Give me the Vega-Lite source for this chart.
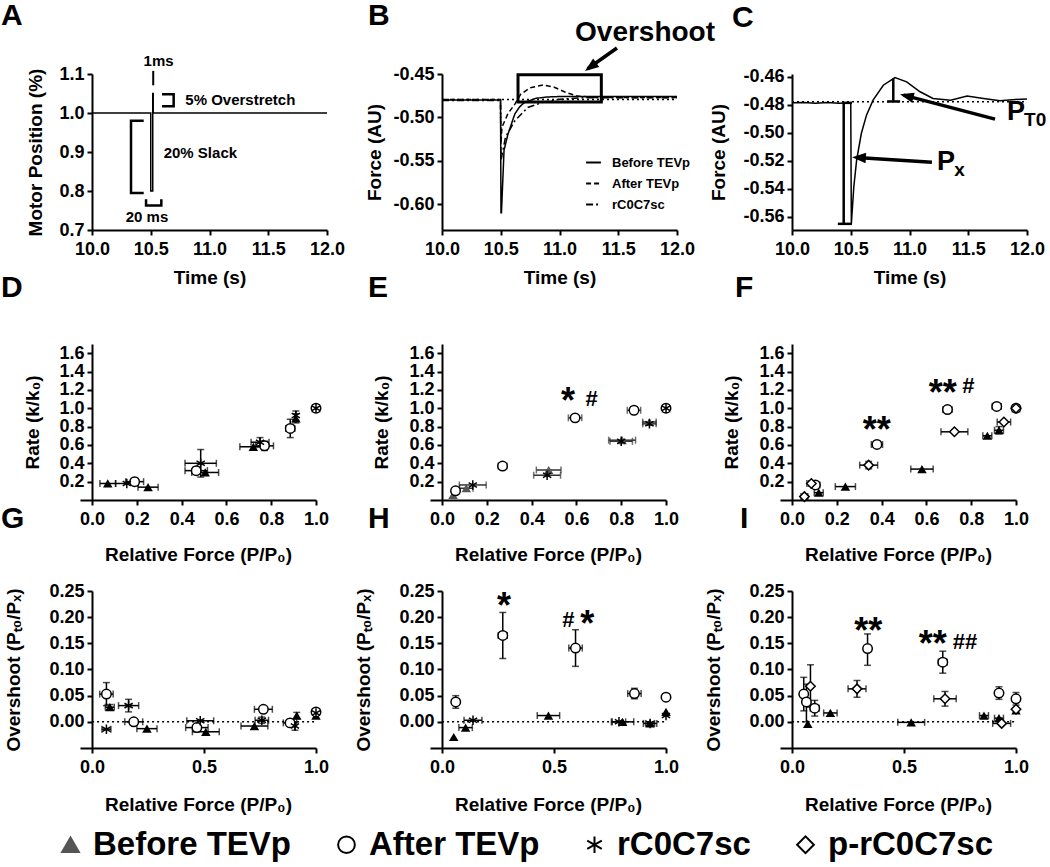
{
"$schema":"https://vega.github.io/schema/vega-lite/v6.json",
"padding":{"left":-35,"top":0,"right":0,"bottom":0},
"config":{
 "view":{"stroke":null},
 "axis":{"domainColor":"black","domainWidth":2,"tickColor":"black","tickWidth":2,"tickSize":5,"labelFont":"Liberation Sans","labelFontSize":18,"labelFontWeight":"bold","labelColor":"black","titleFont":"Liberation Sans","titleFontSize":19,"titleFontWeight":"bold","titleColor":"black","grid":false,"labelFlush":false,"labelOverlap":false,"labelBound":false},
 "axisX":{"labelPadding":5},
 "axisY":{"labelPadding":3},
 "title":{"font":"Liberation Sans","fontSize":30,"fontWeight":"bold","color":"black","anchor":"start","frame":"group"},
 "text":{"font":"Liberation Sans","fontWeight":"bold","color":"black"},
 "legend":{"labelFont":"Liberation Sans","labelFontWeight":"bold","labelColor":"black"}
},
"datasets":{
 "motor":[{"i":0,"t":10,"v":1},{"i":1,"t":10.5,"v":1},{"i":2,"t":10.5,"v":0.8},{"i":3,"t":10.517,"v":0.8},{"i":4,"t":10.517,"v":1.05},{"i":5,"t":10.521,"v":1.05},{"i":6,"t":10.521,"v":1.0},{"i":7,"t":12,"v":1.0}],
 "bracketsA":[
  {"b":"over","i":0,"t":10.596,"v":1.048},{"b":"over","i":1,"t":10.695,"v":1.048},{"b":"over","i":2,"t":10.695,"v":1.017},{"b":"over","i":3,"t":10.596,"v":1.017},
  {"b":"slack","i":0,"t":10.44,"v":0.98},{"b":"slack","i":1,"t":10.332,"v":0.98},{"b":"slack","i":2,"t":10.332,"v":0.795},{"b":"slack","i":3,"t":10.44,"v":0.795},
  {"b":"ms","i":0,"t":10.46,"v":0.779},{"b":"ms","i":1,"t":10.46,"v":0.763},{"b":"ms","i":2,"t":10.59,"v":0.763},{"b":"ms","i":3,"t":10.59,"v":0.779}
 ],
 "force":[
  {"s":"Before TEVp","i":0,"t":10.0,"v":-0.48},{"s":"Before TEVp","i":1,"t":10.498,"v":-0.48},{"s":"Before TEVp","i":2,"t":10.502,"v":-0.61},{"s":"Before TEVp","i":3,"t":10.506,"v":-0.61},{"s":"Before TEVp","i":4,"t":10.528,"v":-0.538},{"s":"Before TEVp","i":5,"t":10.56,"v":-0.52},{"s":"Before TEVp","i":6,"t":10.62,"v":-0.496},{"s":"Before TEVp","i":7,"t":10.66,"v":-0.488},{"s":"Before TEVp","i":8,"t":10.7,"v":-0.483},{"s":"Before TEVp","i":9,"t":10.8,"v":-0.478},{"s":"Before TEVp","i":10,"t":10.9,"v":-0.4765},{"s":"Before TEVp","i":11,"t":11.0,"v":-0.476},{"s":"Before TEVp","i":12,"t":12.0,"v":-0.476},
  {"s":"After TEVp","i":0,"t":10.0,"v":-0.4795},{"s":"After TEVp","i":1,"t":10.498,"v":-0.4795},{"s":"After TEVp","i":2,"t":10.502,"v":-0.53},{"s":"After TEVp","i":3,"t":10.51,"v":-0.5115},{"s":"After TEVp","i":4,"t":10.56,"v":-0.496},{"s":"After TEVp","i":5,"t":10.62,"v":-0.4847},{"s":"After TEVp","i":6,"t":10.67,"v":-0.4733},{"s":"After TEVp","i":7,"t":10.75,"v":-0.466},{"s":"After TEVp","i":8,"t":10.86,"v":-0.4626},{"s":"After TEVp","i":9,"t":10.95,"v":-0.465},{"s":"After TEVp","i":10,"t":11.05,"v":-0.471},{"s":"After TEVp","i":11,"t":11.15,"v":-0.4755},{"s":"After TEVp","i":12,"t":11.3,"v":-0.477},{"s":"After TEVp","i":13,"t":12.0,"v":-0.477},
  {"s":"rC0C7sc","i":0,"t":10.0,"v":-0.4805},{"s":"rC0C7sc","i":1,"t":10.498,"v":-0.4805},{"s":"rC0C7sc","i":2,"t":10.502,"v":-0.55},{"s":"rC0C7sc","i":3,"t":10.54,"v":-0.523},{"s":"rC0C7sc","i":4,"t":10.62,"v":-0.504},{"s":"rC0C7sc","i":5,"t":10.73,"v":-0.4886},{"s":"rC0C7sc","i":6,"t":10.85,"v":-0.483},{"s":"rC0C7sc","i":7,"t":11.0,"v":-0.479},{"s":"rC0C7sc","i":8,"t":11.2,"v":-0.4775},{"s":"rC0C7sc","i":9,"t":12.0,"v":-0.4775}
 ],
 "traceC":[
  {"i":0,"t":10.0,"v":-0.4786},{"i":1,"t":10.1,"v":-0.4783},{"i":2,"t":10.2,"v":-0.4789},{"i":3,"t":10.3,"v":-0.4784},{"i":4,"t":10.4,"v":-0.4788},{"i":5,"t":10.5,"v":-0.4786},{"i":6,"t":10.505,"v":-0.565},{"i":7,"t":10.526,"v":-0.5386},{"i":8,"t":10.55,"v":-0.5195},{"i":9,"t":10.59,"v":-0.5005},{"i":10,"t":10.634,"v":-0.4874},{"i":11,"t":10.69,"v":-0.4767},{"i":12,"t":10.777,"v":-0.466},{"i":13,"t":10.876,"v":-0.4605},{"i":14,"t":10.976,"v":-0.4636},{"i":15,"t":11.09,"v":-0.4707},{"i":16,"t":11.2,"v":-0.4755},{"i":17,"t":11.35,"v":-0.4767},{"i":18,"t":11.49,"v":-0.4738},{"i":19,"t":11.63,"v":-0.4755},{"i":20,"t":11.77,"v":-0.4771},{"i":21,"t":11.9,"v":-0.4762},{"i":22,"t":12.0,"v":-0.4758}
 ],
 "pts":[
  {"p":"D","g":"Before TEVp","x":0.07,"y":0.18,"xlo":0.035,"xhi":0.105},
  {"p":"D","g":"Before TEVp","x":0.25,"y":0.14,"xlo":0.205,"xhi":0.295},
  {"p":"D","g":"Before TEVp","x":0.505,"y":0.30,"xlo":0.445,"xhi":0.565},
  {"p":"D","g":"Before TEVp","x":0.72,"y":0.58,"xlo":0.66,"xhi":0.78},
  {"p":"D","g":"Before TEVp","x":0.91,"y":0.89,"ylo":0.84,"yhi":0.94},
  {"p":"D","g":"Before TEVp","x":1.0,"y":1.0},
  {"p":"D","g":"After TEVp","x":0.19,"y":0.2,"xlo":0.15,"xhi":0.23},
  {"p":"D","g":"After TEVp","x":0.465,"y":0.32,"xlo":0.415,"xhi":0.515,"ylo":0.28,"yhi":0.36},
  {"p":"D","g":"After TEVp","x":0.77,"y":0.59,"xlo":0.73,"xhi":0.81,"ylo":0.54,"yhi":0.64},
  {"p":"D","g":"After TEVp","x":0.885,"y":0.78,"xlo":0.865,"xhi":0.905,"ylo":0.68,"yhi":0.88},
  {"p":"D","g":"After TEVp","x":1.0,"y":1.0},
  {"p":"D","g":"rC0C7sc","x":0.155,"y":0.18,"xlo":0.105,"xhi":0.205},
  {"p":"D","g":"rC0C7sc","x":0.485,"y":0.40,"xlo":0.415,"xhi":0.555,"ylo":0.25,"yhi":0.55},
  {"p":"D","g":"rC0C7sc","x":0.75,"y":0.63,"xlo":0.71,"xhi":0.79,"ylo":0.58,"yhi":0.68},
  {"p":"D","g":"rC0C7sc","x":0.91,"y":0.92,"ylo":0.87,"yhi":0.97},
  {"p":"D","g":"rC0C7sc","x":1.0,"y":1.0},
  {"p":"E","g":"Before TEVp","x":0.049,"y":0.055},
  {"p":"E","g":"Before TEVp","x":0.108,"y":0.128,"xlo":0.078,"xhi":0.138},
  {"p":"E","g":"Before TEVp","x":0.476,"y":0.327,"xlo":0.421,"xhi":0.531},
  {"p":"E","g":"Before TEVp","x":0.804,"y":0.652,"xlo":0.744,"xhi":0.864},
  {"p":"E","g":"Before TEVp","x":0.926,"y":0.85,"xlo":0.896,"xhi":0.956},
  {"p":"E","g":"Before TEVp","x":1.0,"y":1.0},
  {"p":"E","g":"After TEVp","x":0.06,"y":0.10,"xlo":0.045,"xhi":0.075},
  {"p":"E","g":"After TEVp","x":0.27,"y":0.37,"xlo":0.25,"xhi":0.29,"ylo":0.34,"yhi":0.40},
  {"p":"E","g":"After TEVp","x":0.594,"y":0.895,"xlo":0.564,"xhi":0.624,"ylo":0.875,"yhi":0.915},
  {"p":"E","g":"After TEVp","x":0.857,"y":0.978,"xlo":0.827,"xhi":0.887,"ylo":0.958,"yhi":0.998},
  {"p":"E","g":"After TEVp","x":1.0,"y":1.0},
  {"p":"E","g":"rC0C7sc","x":0.137,"y":0.164,"xlo":0.077,"xhi":0.197},
  {"p":"E","g":"rC0C7sc","x":0.469,"y":0.27,"xlo":0.409,"xhi":0.529},
  {"p":"E","g":"rC0C7sc","x":0.80,"y":0.64,"xlo":0.75,"xhi":0.85},
  {"p":"E","g":"rC0C7sc","x":0.926,"y":0.83,"xlo":0.896,"xhi":0.956},
  {"p":"E","g":"rC0C7sc","x":1.0,"y":1.0},
  {"p":"F","g":"Before TEVp","x":0.119,"y":0.08,"xlo":0.099,"xhi":0.139},
  {"p":"F","g":"Before TEVp","x":0.238,"y":0.146,"xlo":0.193,"xhi":0.283},
  {"p":"F","g":"Before TEVp","x":0.58,"y":0.337,"xlo":0.53,"xhi":0.63},
  {"p":"F","g":"Before TEVp","x":0.872,"y":0.70,"xlo":0.852,"xhi":0.892},
  {"p":"F","g":"Before TEVp","x":0.924,"y":0.76,"xlo":0.904,"xhi":0.944,"ylo":0.72,"yhi":0.80},
  {"p":"F","g":"Before TEVp","x":1.0,"y":1.0},
  {"p":"F","g":"After TEVp","x":0.104,"y":0.164,"xlo":0.084,"xhi":0.124,"ylo":0.134,"yhi":0.194},
  {"p":"F","g":"After TEVp","x":0.379,"y":0.605,"xlo":0.354,"xhi":0.404,"ylo":0.575,"yhi":0.635},
  {"p":"F","g":"After TEVp","x":0.694,"y":0.985,"xlo":0.674,"xhi":0.714,"ylo":0.945,"yhi":1.025},
  {"p":"F","g":"After TEVp","x":0.914,"y":1.02,"xlo":0.894,"xhi":0.934,"ylo":0.99,"yhi":1.05},
  {"p":"F","g":"After TEVp","x":1.0,"y":1.0},
  {"p":"F","g":"p-rC0C7sc","x":0.055,"y":0.037,"xlo":0.04,"xhi":0.07},
  {"p":"F","g":"p-rC0C7sc","x":0.086,"y":0.18,"xlo":0.066,"xhi":0.106,"ylo":0.15,"yhi":0.21},
  {"p":"F","g":"p-rC0C7sc","x":0.342,"y":0.38,"xlo":0.302,"xhi":0.382,"ylo":0.34,"yhi":0.42},
  {"p":"F","g":"p-rC0C7sc","x":0.725,"y":0.743,"xlo":0.665,"xhi":0.785},
  {"p":"F","g":"p-rC0C7sc","x":0.946,"y":0.85,"xlo":0.916,"xhi":0.976},
  {"p":"F","g":"p-rC0C7sc","x":1.0,"y":1.0},
  {"p":"G","g":"Before TEVp","x":0.079,"y":0.028,"xlo":0.059,"xhi":0.099,"ylo":0.023,"yhi":0.033},
  {"p":"G","g":"Before TEVp","x":0.245,"y":-0.013,"xlo":0.2,"xhi":0.29},
  {"p":"G","g":"Before TEVp","x":0.508,"y":-0.019,"xlo":0.448,"xhi":0.568},
  {"p":"G","g":"Before TEVp","x":0.725,"y":-0.008,"xlo":0.665,"xhi":0.785},
  {"p":"G","g":"Before TEVp","x":0.914,"y":0.012,"ylo":0.006,"yhi":0.018},
  {"p":"G","g":"Before TEVp","x":1.0,"y":0.012},
  {"p":"G","g":"After TEVp","x":0.064,"y":0.053,"xlo":0.034,"xhi":0.094,"ylo":0.031,"yhi":0.075},
  {"p":"G","g":"After TEVp","x":0.186,"y":0.0,"xlo":0.146,"xhi":0.226},
  {"p":"G","g":"After TEVp","x":0.468,"y":-0.011,"xlo":0.418,"xhi":0.518},
  {"p":"G","g":"After TEVp","x":0.765,"y":0.024,"xlo":0.725,"xhi":0.805},
  {"p":"G","g":"After TEVp","x":0.884,"y":-0.002,"xlo":0.854,"xhi":0.914},
  {"p":"G","g":"After TEVp","x":1.0,"y":0.019},
  {"p":"G","g":"rC0C7sc","x":0.064,"y":-0.014,"xlo":0.044,"xhi":0.084},
  {"p":"G","g":"rC0C7sc","x":0.163,"y":0.031,"xlo":0.118,"xhi":0.208,"ylo":0.019,"yhi":0.043},
  {"p":"G","g":"rC0C7sc","x":0.483,"y":0.002,"xlo":0.423,"xhi":0.543},
  {"p":"G","g":"rC0C7sc","x":0.758,"y":0.003,"xlo":0.728,"xhi":0.788,"ylo":-0.003,"yhi":0.009},
  {"p":"G","g":"rC0C7sc","x":0.906,"y":-0.008,"ylo":-0.016,"yhi":0.0},
  {"p":"G","g":"rC0C7sc","x":1.0,"y":0.017},
  {"p":"H","g":"Before TEVp","x":0.052,"y":-0.029},
  {"p":"H","g":"Before TEVp","x":0.105,"y":-0.011,"xlo":0.075,"xhi":0.135},
  {"p":"H","g":"Before TEVp","x":0.475,"y":0.012,"xlo":0.425,"xhi":0.525},
  {"p":"H","g":"Before TEVp","x":0.806,"y":0.0,"xlo":0.756,"xhi":0.856},
  {"p":"H","g":"Before TEVp","x":0.929,"y":-0.003,"xlo":0.909,"xhi":0.949},
  {"p":"H","g":"Before TEVp","x":1.0,"y":0.019},
  {"p":"H","g":"After TEVp","x":0.061,"y":0.038,"ylo":0.026,"yhi":0.05},
  {"p":"H","g":"After TEVp","x":0.271,"y":0.165,"xlo":0.251,"xhi":0.291,"ylo":0.121,"yhi":0.209},
  {"p":"H","g":"After TEVp","x":0.596,"y":0.141,"xlo":0.566,"xhi":0.626,"ylo":0.106,"yhi":0.176},
  {"p":"H","g":"After TEVp","x":0.859,"y":0.054,"xlo":0.829,"xhi":0.889,"ylo":0.044,"yhi":0.064},
  {"p":"H","g":"After TEVp","x":1.0,"y":0.047},
  {"p":"H","g":"rC0C7sc","x":0.138,"y":0.003,"xlo":0.098,"xhi":0.178},
  {"p":"H","g":"rC0C7sc","x":0.79,"y":0.0,"xlo":0.76,"xhi":0.82},
  {"p":"H","g":"rC0C7sc","x":0.929,"y":-0.003,"xlo":0.899,"xhi":0.959},
  {"p":"H","g":"rC0C7sc","x":1.0,"y":0.012},
  {"p":"I","g":"Before TEVp","x":0.07,"y":-0.004},
  {"p":"I","g":"Before TEVp","x":0.171,"y":0.017,"xlo":0.141,"xhi":0.201},
  {"p":"I","g":"Before TEVp","x":0.532,"y":-0.001,"xlo":0.472,"xhi":0.592},
  {"p":"I","g":"Before TEVp","x":0.857,"y":0.012,"xlo":0.837,"xhi":0.877},
  {"p":"I","g":"Before TEVp","x":0.924,"y":0.007,"xlo":0.904,"xhi":0.944},
  {"p":"I","g":"Before TEVp","x":1.0,"y":0.022},
  {"p":"I","g":"After TEVp","x":0.052,"y":0.053,"ylo":0.021,"yhi":0.085},
  {"p":"I","g":"After TEVp","x":0.064,"y":0.038,"ylo":0.0,"yhi":0.072},
  {"p":"I","g":"After TEVp","x":0.101,"y":0.026,"xlo":0.081,"xhi":0.121,"ylo":0.011,"yhi":0.041},
  {"p":"I","g":"After TEVp","x":0.337,"y":0.14,"xlo":0.322,"xhi":0.352,"ylo":0.108,"yhi":0.168},
  {"p":"I","g":"After TEVp","x":0.673,"y":0.114,"xlo":0.653,"xhi":0.693,"ylo":0.093,"yhi":0.135},
  {"p":"I","g":"After TEVp","x":0.924,"y":0.055,"xlo":0.909,"xhi":0.939,"ylo":0.043,"yhi":0.067},
  {"p":"I","g":"After TEVp","x":1.0,"y":0.044,"ylo":0.032,"yhi":0.056},
  {"p":"I","g":"p-rC0C7sc","x":0.082,"y":0.068,"ylo":0.028,"yhi":0.109},
  {"p":"I","g":"p-rC0C7sc","x":0.29,"y":0.063,"xlo":0.25,"xhi":0.33,"ylo":0.047,"yhi":0.079},
  {"p":"I","g":"p-rC0C7sc","x":0.683,"y":0.044,"xlo":0.633,"xhi":0.733,"ylo":0.03,"yhi":0.058},
  {"p":"I","g":"p-rC0C7sc","x":0.936,"y":-0.003,"xlo":0.896,"xhi":0.976},
  {"p":"I","g":"p-rC0C7sc","x":1.0,"y":0.024}
 ],
 "notes":[
  {"p":"E","t":"*","x":0.562,"y":1.12},{"p":"E","t":"#","x":0.668,"y":1.104},
  {"p":"F","t":"**","x":0.673,"y":1.213},{"p":"F","t":"#","x":0.787,"y":1.242},{"p":"F","t":"**","x":0.378,"y":0.806},
  {"p":"H","t":"*","x":0.276,"y":0.2296},{"p":"H","t":"#","x":0.564,"y":0.1946},{"p":"H","t":"*","x":0.648,"y":0.1946},
  {"p":"I","t":"**","x":0.34,"y":0.182},{"p":"I","t":"**","x":0.628,"y":0.156},{"p":"I","t":"##","x":0.772,"y":0.153}
 ]
},
"spacing":-14,
"bounds":"full",
"resolve":{"scale":{"strokeDash":"independent"},"legend":{"strokeDash":"independent"}},
"vconcat":[
  {"spacing":115,"bounds":"flush",
   "resolve":{"scale":{"strokeDash":"independent"},"legend":{"strokeDash":"independent"}},
   "hconcat":[
   {"width":12,"height":1,"data":{"values":[{"a":1}]},"mark":{"type":"text","text":""},"encoding":{}},
   {"width":235,"height":156,"title":{"text":"A","dx":-91,"offset":23},
    "layer":[
     {"data":{"name":"motor"},"mark":{"type":"line","color":"black","strokeWidth":1.5},
      "encoding":{"x":{"field":"t","type":"quantitative","scale":{"domain":[10,12]},"title":"Time (s)","axis":{"values":[10,10.5,11,11.5,12],"tickCount":20,"format":".1f","titlePadding":10,"labelOverlap":false}},
       "y":{"field":"v","type":"quantitative","scale":{"domain":[0.7,1.1]},"title":"Motor Position (%)","axis":{"values":[0.7,0.8,0.9,1.0,1.1],"tickCount":20,"format":".1f","titlePadding":13,"labelOverlap":false}},
       "order":{"field":"i"}}},
     {"data":{"name":"bracketsA"},"mark":{"type":"line","color":"black","strokeWidth":2.5},
      "encoding":{"x":{"field":"t","type":"quantitative","scale":{"domain":[10,12]}},"y":{"field":"v","type":"quantitative","scale":{"domain":[0.7,1.1]}},"detail":{"field":"b"},"order":{"field":"i"}}},
     {"data":{"values":[{"t":10.521,"v1":1.071,"v2":1.108}]},"mark":{"type":"rule","color":"black","strokeWidth":2},
      "encoding":{"x":{"field":"t","type":"quantitative","scale":{"domain":[10,12]}},"y":{"field":"v1","type":"quantitative","scale":{"domain":[0.7,1.1]}},"y2":{"field":"v2"}}},
     {"data":{"values":[{"t":10.567,"v":1.134,"label":"1ms"},{"t":10.468,"v":0.734,"label":"20 ms"}]},"mark":{"type":"text","fontSize":15,"align":"center","baseline":"middle"},
      "encoding":{"x":{"field":"t","type":"quantitative","scale":{"domain":[10,12]}},"y":{"field":"v","type":"quantitative","scale":{"domain":[0.7,1.1]}},"text":{"field":"label"}}},
     {"data":{"values":[{"t":10.794,"v":1.034,"label":"5% Overstretch"},{"t":10.61,"v":0.898,"label":"20% Slack"}]},"mark":{"type":"text","fontSize":15,"align":"left","baseline":"middle"},
      "encoding":{"x":{"field":"t","type":"quantitative","scale":{"domain":[10,12]}},"y":{"field":"v","type":"quantitative","scale":{"domain":[0.7,1.1]}},"text":{"field":"label"}}}
    ]},
   {"width":235,"height":156,"title":{"text":"B","dx":-74,"offset":-12},
    "layer":[
     {"data":{"values":[{"t1":10,"t2":12,"v":-0.4795}]},"mark":{"type":"rule","color":"black","strokeWidth":1.5,"strokeDash":[2,3]},
      "encoding":{"x":{"field":"t1","type":"quantitative","scale":{"domain":[10,12]}},"x2":{"field":"t2"},"y":{"field":"v","type":"quantitative","scale":{"domain":[-0.63,-0.45]}}}},
     {"data":{"name":"force"},"mark":{"type":"line","color":"black","strokeWidth":1.5},
      "encoding":{"x":{"field":"t","type":"quantitative","scale":{"domain":[10,12]},"title":"Time (s)","axis":{"values":[10,10.5,11,11.5,12],"tickCount":20,"format":".1f","titlePadding":10,"labelOverlap":false}},
       "y":{"field":"v","type":"quantitative","scale":{"domain":[-0.63,-0.45]},"title":"Force (AU)","axis":{"values":[-0.45,-0.5,-0.55,-0.6],"tickCount":20,"labelExpr":"'-' + format(abs(datum.value), '.2f')","titlePadding":8,"labelOverlap":false}},
       "order":{"field":"i"},
       "strokeDash":{"field":"s","type":"nominal","scale":{"domain":["Before TEVp","After TEVp","rC0C7sc"],"range":[[1,0],[5,3],[7,3,2,3]]},
        "legend":{"title":null,"orient":"none","legendX":143,"legendY":80,"direction":"vertical","labelFontSize":13,"labelFontWeight":"bold","labelFont":"Liberation Sans","labelColor":"black","symbolType":"stroke","symbolSize":220,"symbolStrokeWidth":2,"symbolStrokeColor":"black","labelOffset":10,"rowPadding":5,"padding":0}}}},
     {"data":{"values":[{"t1":10.647,"t2":11.356,"v1":-0.4824,"v2":-0.451}]},"mark":{"type":"rect","fillOpacity":0,"stroke":"black","strokeWidth":3},
      "encoding":{"x":{"field":"t1","type":"quantitative","scale":{"domain":[10,12]}},"x2":{"field":"t2"},"y":{"field":"v1","type":"quantitative","scale":{"domain":[-0.63,-0.45]}},"y2":{"field":"v2"}}},
     {"data":{"values":[{"t1":11.489,"v1":-0.42,"t2":11.24,"v2":-0.444}]},"mark":{"type":"rule","color":"black","strokeWidth":3.5},
      "encoding":{"x":{"field":"t1","type":"quantitative","scale":{"domain":[10,12]}},"x2":{"field":"t2"},"y":{"field":"v1","type":"quantitative","scale":{"domain":[-0.63,-0.45]}},"y2":{"field":"v2"}}},
     {"data":{"values":[{"t":11.217,"v":-0.4465}]},"mark":{"type":"point","shape":"M0,0L0.6,1.6L-0.6,1.6Z","filled":true,"color":"black","opacity":1,"size":300,"angle":234},
      "encoding":{"x":{"field":"t","type":"quantitative","scale":{"domain":[10,12]}},"y":{"field":"v","type":"quantitative","scale":{"domain":[-0.63,-0.45]}}}},
     {"data":{"values":[{"t":11.728,"v":-0.4027,"label":"Overshoot"}]},"mark":{"type":"text","fontSize":28,"align":"center","baseline":"middle"},
      "encoding":{"x":{"field":"t","type":"quantitative","scale":{"domain":[10,12]}},"y":{"field":"v","type":"quantitative","scale":{"domain":[-0.63,-0.45]}},"text":{"field":"label"}}}
    ]},
   {"width":235,"height":156,"title":{"text":"C","dx":-60,"offset":35},
    "layer":[
     {"data":{"values":[{"t1":10,"t2":12,"v":-0.4779}]},"mark":{"type":"rule","color":"black","strokeWidth":1.5,"strokeDash":[2,3]},
      "encoding":{"x":{"field":"t1","type":"quantitative","scale":{"domain":[10,12]}},"x2":{"field":"t2"},"y":{"field":"v","type":"quantitative","scale":{"domain":[-0.5694,-0.458]}}}},
     {"data":{"name":"traceC"},"mark":{"type":"line","color":"black","strokeWidth":1.5},
      "encoding":{"x":{"field":"t","type":"quantitative","scale":{"domain":[10,12]},"title":"Time (s)","axis":{"values":[10,10.5,11,11.5,12],"tickCount":20,"format":".1f","titlePadding":10,"labelOverlap":false}},
       "y":{"field":"v","type":"quantitative","scale":{"domain":[-0.5694,-0.458]},"title":"Force (AU)","axis":{"values":[-0.46,-0.48,-0.5,-0.52,-0.54,-0.56],"tickCount":20,"labelExpr":"'-' + format(abs(datum.value), '.2f')","titlePadding":14,"labelOverlap":false}},
       "order":{"field":"i"}}},
     {"data":{"values":[{"t1":10.44,"v1":-0.4786,"t2":10.44,"v2":-0.565},{"t1":10.39,"v1":-0.565,"t2":10.51,"v2":-0.565},{"t1":10.43,"v1":-0.4786,"t2":10.51,"v2":-0.4786},{"t1":10.862,"v1":-0.4612,"t2":10.862,"v2":-0.4776},{"t1":10.81,"v1":-0.4776,"t2":10.92,"v2":-0.4776}]},"mark":{"type":"rule","color":"black","strokeWidth":2.5},
      "encoding":{"x":{"field":"t1","type":"quantitative","scale":{"domain":[10,12]}},"x2":{"field":"t2"},"y":{"field":"v1","type":"quantitative","scale":{"domain":[-0.5694,-0.458]}},"y2":{"field":"v2"}}},
     {"data":{"values":[{"t1":11.728,"v1":-0.4902,"t2":10.95,"v2":-0.4731},{"t1":11.191,"v1":-0.521,"t2":10.55,"v2":-0.5177}]},"mark":{"type":"rule","color":"black","strokeWidth":3.5},
      "encoding":{"x":{"field":"t1","type":"quantitative","scale":{"domain":[10,12]}},"x2":{"field":"t2"},"y":{"field":"v1","type":"quantitative","scale":{"domain":[-0.5694,-0.458]}},"y2":{"field":"v2"}}},
     {"data":{"values":[{"t":10.919,"v":-0.4724}]},"mark":{"type":"point","shape":"M0,0L0.6,1.6L-0.6,1.6Z","filled":true,"color":"black","opacity":1,"size":300,"angle":284.7},
      "encoding":{"x":{"field":"t","type":"quantitative","scale":{"domain":[10,12]}},"y":{"field":"v","type":"quantitative","scale":{"domain":[-0.5694,-0.458]}}}},
     {"data":{"values":[{"t":10.511,"v":-0.5174}]},"mark":{"type":"point","shape":"M0,0L0.6,1.6L-0.6,1.6Z","filled":true,"color":"black","opacity":1,"size":300,"angle":273.6},
      "encoding":{"x":{"field":"t","type":"quantitative","scale":{"domain":[10,12]}},"y":{"field":"v","type":"quantitative","scale":{"domain":[-0.5694,-0.458]}}}},
     {"data":{"values":[{"t":11.83,"v":-0.4852,"label":"P"},{"t":11.234,"v":-0.5207,"label":"P"}]},"mark":{"type":"text","fontSize":27,"align":"left","baseline":"middle"},
      "encoding":{"x":{"field":"t","type":"quantitative","scale":{"domain":[10,12]}},"y":{"field":"v","type":"quantitative","scale":{"domain":[-0.5694,-0.458]}},"text":{"field":"label"}}},
     {"data":{"values":[{"t":11.975,"v":-0.4905,"label":"T0"},{"t":11.38,"v":-0.5262,"label":"x"}]},"mark":{"type":"text","fontSize":19,"align":"left","baseline":"middle"},
      "encoding":{"x":{"field":"t","type":"quantitative","scale":{"domain":[10,12]}},"y":{"field":"v","type":"quantitative","scale":{"domain":[-0.5694,-0.458]}},"text":{"field":"label"}}}
    ]}
  ]},
 {"spacing":-60,"bounds":"full",
  "vconcat":[
  {"spacing":114,"bounds":"flush",
   "hconcat":[
   {"width":1,"height":1,"data":{"values":[{"a":1}]},"mark":{"type":"text","text":""},"encoding":{}},
   {"width":236,"height":156,"title":{"text":"D","dx":-79,"offset":41},
    "layer":[
     {"data":{"name":"pts"},"transform":[{"filter":"datum.p=='D' && isValid(datum.xlo)"}],"mark":{"type":"errorbar","color":"black","ticks":{"size":7,"thickness":1.5},"rule":{"strokeWidth":1.5}},
      "encoding":{"x":{"field":"xlo","type":"quantitative","scale":{"domain":[-0.054,1]},"title":"Relative Force (P/P₀)"},"x2":{"field":"xhi"},"y":{"field":"y","type":"quantitative","scale":{"domain":[0,1.7]},"title":"Rate (k/k₀)"}}},
     {"data":{"name":"pts"},"transform":[{"filter":"datum.p=='D' && isValid(datum.ylo)"}],"mark":{"type":"errorbar","color":"black","ticks":{"size":7,"thickness":1.5},"rule":{"strokeWidth":1.5}},
      "encoding":{"y":{"field":"ylo","type":"quantitative","scale":{"domain":[0,1.7]},"title":"Rate (k/k₀)"},"y2":{"field":"yhi"},"x":{"field":"x","type":"quantitative","scale":{"domain":[-0.054,1]},"title":"Relative Force (P/P₀)"}}},
     {"data":{"name":"pts"},"transform":[{"filter":"datum.p=='D' && datum.g=='Before TEVp'"}],"mark":{"type":"point","shape":"triangle-up","size":90,"filled":true,"color":"black","opacity":1},
      "encoding":{"x":{"field":"x","type":"quantitative","scale":{"domain":[-0.054,1]},"title":"Relative Force (P/P₀)"},"y":{"field":"y","type":"quantitative","scale":{"domain":[0,1.7]},"title":"Rate (k/k₀)"}}},
     {"data":{"name":"pts"},"transform":[{"filter":"datum.p=='D' && datum.g!='Before TEVp'"}],"mark":{"type":"point","size":90,"strokeWidth":1.5,"opacity":1},
      "encoding":{"x":{"field":"x","type":"quantitative","scale":{"domain":[-0.054,1]},"title":"Relative Force (P/P₀)","axis":{"values":[0,0.2,0.4,0.6,0.8,1],"tickCount":20,"format":".1f","titlePadding":17,"labelOverlap":false}},
       "y":{"field":"y","type":"quantitative","scale":{"domain":[0,1.7]},"title":"Rate (k/k₀)","axis":{"values":[0.2,0.4,0.6,0.8,1.0,1.2,1.4,1.6],"tickCount":20,"format":".1f","offset":-12,"titlePadding":16,"labelOverlap":false}},
       "shape":{"field":"g","type":"nominal","scale":{"domain":["Before TEVp","After TEVp","rC0C7sc","p-rC0C7sc"],"range":["triangle-up","circle","M0,-1L0,1M-0.87,-0.5L0.87,0.5M-0.87,0.5L0.87,-0.5","diamond"]},
        "legend":{"title":null,"orient":"none","legendX":89,"legendY":754,"direction":"horizontal","labelFontSize":33,"labelFontWeight":"bold","labelFont":"Liberation Sans","labelColor":"black","symbolSize":280,"symbolStrokeWidth":2,"columnPadding":38,"labelOffset":6,"labelLimit":500,"padding":0}},
       "fill":{"field":"g","type":"nominal","scale":{"domain":["Before TEVp","After TEVp","rC0C7sc","p-rC0C7sc"],"range":["#555555","white","black","white"]},
        "legend":{"title":null,"orient":"none","legendX":89,"legendY":754,"direction":"horizontal","labelFontSize":33,"labelFontWeight":"bold","labelFont":"Liberation Sans","labelColor":"black","symbolSize":280,"symbolStrokeWidth":2,"columnPadding":38,"labelOffset":6,"labelLimit":500,"padding":0}},
       "stroke":{"field":"g","type":"nominal","scale":{"domain":["Before TEVp","After TEVp","rC0C7sc","p-rC0C7sc"],"range":["#555555","black","black","black"]},
        "legend":{"title":null,"orient":"none","legendX":89,"legendY":754,"direction":"horizontal","labelFontSize":33,"labelFontWeight":"bold","labelFont":"Liberation Sans","labelColor":"black","symbolSize":280,"symbolStrokeWidth":2,"columnPadding":38,"labelOffset":6,"labelLimit":500,"padding":0}}}}
    ]},
   {"width":236,"height":156,"title":{"text":"E","dx":-62,"offset":41},
    "layer":[
     {"data":{"name":"pts"},"transform":[{"filter":"datum.p=='E' && isValid(datum.xlo)"}],"mark":{"type":"errorbar","color":"#333333","ticks":{"size":7,"thickness":1.5},"rule":{"strokeWidth":1.5}},
      "encoding":{"x":{"field":"xlo","type":"quantitative","scale":{"domain":[-0.054,1]},"title":"Relative Force (P/P₀)"},"x2":{"field":"xhi"},"y":{"field":"y","type":"quantitative","scale":{"domain":[0,1.7]},"title":"Rate (k/k₀)"}}},
     {"data":{"name":"pts"},"transform":[{"filter":"datum.p=='E' && isValid(datum.ylo)"}],"mark":{"type":"errorbar","color":"black","ticks":{"size":7,"thickness":1.5},"rule":{"strokeWidth":1.5}},
      "encoding":{"y":{"field":"ylo","type":"quantitative","scale":{"domain":[0,1.7]},"title":"Rate (k/k₀)"},"y2":{"field":"yhi"},"x":{"field":"x","type":"quantitative","scale":{"domain":[-0.054,1]},"title":"Relative Force (P/P₀)"}}},
     {"data":{"name":"pts"},"transform":[{"filter":"datum.p=='E' && datum.g=='Before TEVp'"}],"mark":{"type":"point","shape":"triangle-up","size":90,"filled":true,"color":"#555555","opacity":1},
      "encoding":{"x":{"field":"x","type":"quantitative","scale":{"domain":[-0.054,1]},"title":"Relative Force (P/P₀)"},"y":{"field":"y","type":"quantitative","scale":{"domain":[0,1.7]},"title":"Rate (k/k₀)"}}},
     {"data":{"name":"pts"},"transform":[{"filter":"datum.p=='E' && datum.g!='Before TEVp'"}],"mark":{"type":"point","size":90,"strokeWidth":1.5,"opacity":1},
      "encoding":{"x":{"field":"x","type":"quantitative","scale":{"domain":[-0.054,1]},"title":"Relative Force (P/P₀)","axis":{"values":[0,0.2,0.4,0.6,0.8,1],"tickCount":20,"format":".1f","titlePadding":17,"labelOverlap":false}},
       "y":{"field":"y","type":"quantitative","scale":{"domain":[0,1.7]},"title":"Rate (k/k₀)","axis":{"values":[0.2,0.4,0.6,0.8,1.0,1.2,1.4,1.6],"tickCount":20,"format":".1f","offset":-12,"titlePadding":17,"labelOverlap":false}},
       "shape":{"field":"g","type":"nominal","scale":{"domain":["Before TEVp","After TEVp","rC0C7sc","p-rC0C7sc"],"range":["triangle-up","circle","M0,-1L0,1M-0.87,-0.5L0.87,0.5M-0.87,0.5L0.87,-0.5","diamond"]}},
       "fill":{"field":"g","type":"nominal","scale":{"domain":["Before TEVp","After TEVp","rC0C7sc","p-rC0C7sc"],"range":["#555555","white","black","white"]}},
       "stroke":{"field":"g","type":"nominal","scale":{"domain":["Before TEVp","After TEVp","rC0C7sc","p-rC0C7sc"],"range":["#555555","black","black","black"]}}}},
     {"data":{"name":"notes"},"transform":[{"filter":"datum.p=='E' && indexof(datum.t,'*')>=0"}],"mark":{"type":"text","fontSize":36,"align":"center","baseline":"middle","dy":5},
      "encoding":{"x":{"field":"x","type":"quantitative","scale":{"domain":[-0.054,1]},"title":"Relative Force (P/P₀)"},"y":{"field":"y","type":"quantitative","scale":{"domain":[0,1.7]},"title":"Rate (k/k₀)"},"text":{"field":"t"}}},
     {"data":{"name":"notes"},"transform":[{"filter":"datum.p=='E' && indexof(datum.t,'#')>=0"}],"mark":{"type":"text","fontSize":22,"align":"center","baseline":"middle"},
      "encoding":{"x":{"field":"x","type":"quantitative","scale":{"domain":[-0.054,1]},"title":"Relative Force (P/P₀)"},"y":{"field":"y","type":"quantitative","scale":{"domain":[0,1.7]},"title":"Rate (k/k₀)"},"text":{"field":"t"}}}
    ]},
   {"width":236,"height":156,"title":{"text":"F","dx":-45,"offset":41},
    "layer":[
     {"data":{"name":"pts"},"transform":[{"filter":"datum.p=='F' && isValid(datum.xlo)"}],"mark":{"type":"errorbar","color":"black","ticks":{"size":7,"thickness":1.5},"rule":{"strokeWidth":1.5}},
      "encoding":{"x":{"field":"xlo","type":"quantitative","scale":{"domain":[-0.054,1]},"title":"Relative Force (P/P₀)"},"x2":{"field":"xhi"},"y":{"field":"y","type":"quantitative","scale":{"domain":[0,1.7]},"title":"Rate (k/k₀)"}}},
     {"data":{"name":"pts"},"transform":[{"filter":"datum.p=='F' && isValid(datum.ylo)"}],"mark":{"type":"errorbar","color":"black","ticks":{"size":7,"thickness":1.5},"rule":{"strokeWidth":1.5}},
      "encoding":{"y":{"field":"ylo","type":"quantitative","scale":{"domain":[0,1.7]},"title":"Rate (k/k₀)"},"y2":{"field":"yhi"},"x":{"field":"x","type":"quantitative","scale":{"domain":[-0.054,1]},"title":"Relative Force (P/P₀)"}}},
     {"data":{"name":"pts"},"transform":[{"filter":"datum.p=='F' && datum.g=='Before TEVp'"}],"mark":{"type":"point","shape":"triangle-up","size":90,"filled":true,"color":"black","opacity":1},
      "encoding":{"x":{"field":"x","type":"quantitative","scale":{"domain":[-0.054,1]},"title":"Relative Force (P/P₀)"},"y":{"field":"y","type":"quantitative","scale":{"domain":[0,1.7]},"title":"Rate (k/k₀)"}}},
     {"data":{"name":"pts"},"transform":[{"filter":"datum.p=='F' && datum.g!='Before TEVp'"}],"mark":{"type":"point","size":90,"strokeWidth":1.5,"opacity":1},
      "encoding":{"x":{"field":"x","type":"quantitative","scale":{"domain":[-0.054,1]},"title":"Relative Force (P/P₀)","axis":{"values":[0,0.2,0.4,0.6,0.8,1],"tickCount":20,"format":".1f","titlePadding":17,"labelOverlap":false}},
       "y":{"field":"y","type":"quantitative","scale":{"domain":[0,1.7]},"title":"Rate (k/k₀)","axis":{"values":[0.2,0.4,0.6,0.8,1.0,1.2,1.4,1.6],"tickCount":20,"format":".1f","offset":-12,"titlePadding":17,"labelOverlap":false}},
       "shape":{"field":"g","type":"nominal","scale":{"domain":["Before TEVp","After TEVp","rC0C7sc","p-rC0C7sc"],"range":["triangle-up","circle","M0,-1L0,1M-0.87,-0.5L0.87,0.5M-0.87,0.5L0.87,-0.5","diamond"]}},
       "fill":{"field":"g","type":"nominal","scale":{"domain":["Before TEVp","After TEVp","rC0C7sc","p-rC0C7sc"],"range":["#555555","white","black","white"]}},
       "stroke":{"field":"g","type":"nominal","scale":{"domain":["Before TEVp","After TEVp","rC0C7sc","p-rC0C7sc"],"range":["#555555","black","black","black"]}}}},
     {"data":{"name":"notes"},"transform":[{"filter":"datum.p=='F' && indexof(datum.t,'*')>=0"}],"mark":{"type":"text","fontSize":36,"align":"center","baseline":"middle","dy":5},
      "encoding":{"x":{"field":"x","type":"quantitative","scale":{"domain":[-0.054,1]},"title":"Relative Force (P/P₀)"},"y":{"field":"y","type":"quantitative","scale":{"domain":[0,1.7]},"title":"Rate (k/k₀)"},"text":{"field":"t"}}},
     {"data":{"name":"notes"},"transform":[{"filter":"datum.p=='F' && indexof(datum.t,'#')>=0"}],"mark":{"type":"text","fontSize":22,"align":"center","baseline":"middle"},
      "encoding":{"x":{"field":"x","type":"quantitative","scale":{"domain":[-0.054,1]},"title":"Relative Force (P/P₀)"},"y":{"field":"y","type":"quantitative","scale":{"domain":[0,1.7]},"title":"Rate (k/k₀)"},"text":{"field":"t"}}}
    ]}
  ]},
  {"spacing":114,"bounds":"flush",
   "hconcat":[
   {"width":1,"height":1,"data":{"values":[{"a":1}]},"mark":{"type":"text","text":""},"encoding":{}},
   {"width":236,"height":157,"title":{"text":"G","dx":-79,"offset":48},
    "layer":[
     {"data":{"values":[{"a":0,"b":1,"z":0}]},"mark":{"type":"rule","color":"black","strokeWidth":1.5,"strokeDash":[2,3]},
      "encoding":{"x":{"field":"a","type":"quantitative","scale":{"domain":[-0.054,1]},"title":"Relative Force (P/P₀)"},"x2":{"field":"b"},"y":{"field":"z","type":"quantitative","scale":{"domain":[-0.05,0.25]},"title":"Overshoot (Pₜ₀/Pₓ)"}}},
     {"data":{"name":"pts"},"transform":[{"filter":"datum.p=='G' && isValid(datum.xlo)"}],"mark":{"type":"errorbar","color":"black","ticks":{"size":7,"thickness":1.5},"rule":{"strokeWidth":1.5}},
      "encoding":{"x":{"field":"xlo","type":"quantitative","scale":{"domain":[-0.054,1]},"title":"Relative Force (P/P₀)"},"x2":{"field":"xhi"},"y":{"field":"y","type":"quantitative","scale":{"domain":[-0.05,0.25]},"title":"Overshoot (Pₜ₀/Pₓ)"}}},
     {"data":{"name":"pts"},"transform":[{"filter":"datum.p=='G' && isValid(datum.ylo)"}],"mark":{"type":"errorbar","color":"black","ticks":{"size":7,"thickness":1.5},"rule":{"strokeWidth":1.5}},
      "encoding":{"y":{"field":"ylo","type":"quantitative","scale":{"domain":[-0.05,0.25]},"title":"Overshoot (Pₜ₀/Pₓ)"},"y2":{"field":"yhi"},"x":{"field":"x","type":"quantitative","scale":{"domain":[-0.054,1]},"title":"Relative Force (P/P₀)"}}},
     {"data":{"name":"pts"},"transform":[{"filter":"datum.p=='G' && datum.g=='Before TEVp'"}],"mark":{"type":"point","shape":"triangle-up","size":90,"filled":true,"color":"black","opacity":1},
      "encoding":{"x":{"field":"x","type":"quantitative","scale":{"domain":[-0.054,1]},"title":"Relative Force (P/P₀)"},"y":{"field":"y","type":"quantitative","scale":{"domain":[-0.05,0.25]},"title":"Overshoot (Pₜ₀/Pₓ)"}}},
     {"data":{"name":"pts"},"transform":[{"filter":"datum.p=='G' && datum.g!='Before TEVp'"}],"mark":{"type":"point","size":90,"strokeWidth":1.5,"opacity":1},
      "encoding":{"x":{"field":"x","type":"quantitative","scale":{"domain":[-0.054,1]},"title":"Relative Force (P/P₀)","axis":{"values":[0,0.5,1],"tickCount":20,"format":".1f","titlePadding":19,"labelOverlap":false}},
       "y":{"field":"y","type":"quantitative","scale":{"domain":[-0.05,0.25]},"title":"Overshoot (Pₜ₀/Pₓ)","axis":{"values":[0,0.05,0.1,0.15,0.2,0.25],"tickCount":20,"format":".2f","offset":-12,"titlePadding":25,"labelOverlap":false}},
       "shape":{"field":"g","type":"nominal","scale":{"domain":["Before TEVp","After TEVp","rC0C7sc","p-rC0C7sc"],"range":["triangle-up","circle","M0,-1L0,1M-0.87,-0.5L0.87,0.5M-0.87,0.5L0.87,-0.5","diamond"]}},
       "fill":{"field":"g","type":"nominal","scale":{"domain":["Before TEVp","After TEVp","rC0C7sc","p-rC0C7sc"],"range":["#555555","white","black","white"]}},
       "stroke":{"field":"g","type":"nominal","scale":{"domain":["Before TEVp","After TEVp","rC0C7sc","p-rC0C7sc"],"range":["#555555","black","black","black"]}}}}
    ]},
   {"width":236,"height":157,"title":{"text":"H","dx":-62,"offset":48},
    "layer":[
     {"data":{"values":[{"a":0,"b":1,"z":0}]},"mark":{"type":"rule","color":"black","strokeWidth":1.5,"strokeDash":[2,3]},
      "encoding":{"x":{"field":"a","type":"quantitative","scale":{"domain":[-0.054,1]},"title":"Relative Force (P/P₀)"},"x2":{"field":"b"},"y":{"field":"z","type":"quantitative","scale":{"domain":[-0.05,0.25]},"title":"Overshoot (Pₜ₀/Pₓ)"}}},
     {"data":{"name":"pts"},"transform":[{"filter":"datum.p=='H' && isValid(datum.xlo)"}],"mark":{"type":"errorbar","color":"black","ticks":{"size":7,"thickness":1.5},"rule":{"strokeWidth":1.5}},
      "encoding":{"x":{"field":"xlo","type":"quantitative","scale":{"domain":[-0.054,1]},"title":"Relative Force (P/P₀)"},"x2":{"field":"xhi"},"y":{"field":"y","type":"quantitative","scale":{"domain":[-0.05,0.25]},"title":"Overshoot (Pₜ₀/Pₓ)"}}},
     {"data":{"name":"pts"},"transform":[{"filter":"datum.p=='H' && isValid(datum.ylo)"}],"mark":{"type":"errorbar","color":"black","ticks":{"size":7,"thickness":1.5},"rule":{"strokeWidth":1.5}},
      "encoding":{"y":{"field":"ylo","type":"quantitative","scale":{"domain":[-0.05,0.25]},"title":"Overshoot (Pₜ₀/Pₓ)"},"y2":{"field":"yhi"},"x":{"field":"x","type":"quantitative","scale":{"domain":[-0.054,1]},"title":"Relative Force (P/P₀)"}}},
     {"data":{"name":"pts"},"transform":[{"filter":"datum.p=='H' && datum.g=='Before TEVp'"}],"mark":{"type":"point","shape":"triangle-up","size":90,"filled":true,"color":"black","opacity":1},
      "encoding":{"x":{"field":"x","type":"quantitative","scale":{"domain":[-0.054,1]},"title":"Relative Force (P/P₀)"},"y":{"field":"y","type":"quantitative","scale":{"domain":[-0.05,0.25]},"title":"Overshoot (Pₜ₀/Pₓ)"}}},
     {"data":{"name":"pts"},"transform":[{"filter":"datum.p=='H' && datum.g!='Before TEVp'"}],"mark":{"type":"point","size":90,"strokeWidth":1.5,"opacity":1},
      "encoding":{"x":{"field":"x","type":"quantitative","scale":{"domain":[-0.054,1]},"title":"Relative Force (P/P₀)","axis":{"values":[0,0.5,1],"tickCount":20,"format":".1f","titlePadding":19,"labelOverlap":false}},
       "y":{"field":"y","type":"quantitative","scale":{"domain":[-0.05,0.25]},"title":"Overshoot (Pₜ₀/Pₓ)","axis":{"values":[0,0.05,0.1,0.15,0.2,0.25],"tickCount":20,"format":".2f","offset":-12,"titlePadding":25,"labelOverlap":false}},
       "shape":{"field":"g","type":"nominal","scale":{"domain":["Before TEVp","After TEVp","rC0C7sc","p-rC0C7sc"],"range":["triangle-up","circle","M0,-1L0,1M-0.87,-0.5L0.87,0.5M-0.87,0.5L0.87,-0.5","diamond"]}},
       "fill":{"field":"g","type":"nominal","scale":{"domain":["Before TEVp","After TEVp","rC0C7sc","p-rC0C7sc"],"range":["#555555","white","black","white"]}},
       "stroke":{"field":"g","type":"nominal","scale":{"domain":["Before TEVp","After TEVp","rC0C7sc","p-rC0C7sc"],"range":["#555555","black","black","black"]}}}},
     {"data":{"name":"notes"},"transform":[{"filter":"datum.p=='H' && indexof(datum.t,'*')>=0"}],"mark":{"type":"text","fontSize":36,"align":"center","baseline":"middle","dy":5},
      "encoding":{"x":{"field":"x","type":"quantitative","scale":{"domain":[-0.054,1]},"title":"Relative Force (P/P₀)"},"y":{"field":"y","type":"quantitative","scale":{"domain":[-0.05,0.25]},"title":"Overshoot (Pₜ₀/Pₓ)"},"text":{"field":"t"}}},
     {"data":{"name":"notes"},"transform":[{"filter":"datum.p=='H' && indexof(datum.t,'#')>=0"}],"mark":{"type":"text","fontSize":22,"align":"center","baseline":"middle"},
      "encoding":{"x":{"field":"x","type":"quantitative","scale":{"domain":[-0.054,1]},"title":"Relative Force (P/P₀)"},"y":{"field":"y","type":"quantitative","scale":{"domain":[-0.05,0.25]},"title":"Overshoot (Pₜ₀/Pₓ)"},"text":{"field":"t"}}}
    ]},
   {"width":236,"height":157,"title":{"text":"I","dx":-40,"offset":48},
    "layer":[
     {"data":{"values":[{"a":0,"b":1,"z":0}]},"mark":{"type":"rule","color":"black","strokeWidth":1.5,"strokeDash":[2,3]},
      "encoding":{"x":{"field":"a","type":"quantitative","scale":{"domain":[-0.054,1]},"title":"Relative Force (P/P₀)"},"x2":{"field":"b"},"y":{"field":"z","type":"quantitative","scale":{"domain":[-0.05,0.25]},"title":"Overshoot (Pₜ₀/Pₓ)"}}},
     {"data":{"name":"pts"},"transform":[{"filter":"datum.p=='I' && isValid(datum.xlo)"}],"mark":{"type":"errorbar","color":"black","ticks":{"size":7,"thickness":1.5},"rule":{"strokeWidth":1.5}},
      "encoding":{"x":{"field":"xlo","type":"quantitative","scale":{"domain":[-0.054,1]},"title":"Relative Force (P/P₀)"},"x2":{"field":"xhi"},"y":{"field":"y","type":"quantitative","scale":{"domain":[-0.05,0.25]},"title":"Overshoot (Pₜ₀/Pₓ)"}}},
     {"data":{"name":"pts"},"transform":[{"filter":"datum.p=='I' && isValid(datum.ylo)"}],"mark":{"type":"errorbar","color":"black","ticks":{"size":7,"thickness":1.5},"rule":{"strokeWidth":1.5}},
      "encoding":{"y":{"field":"ylo","type":"quantitative","scale":{"domain":[-0.05,0.25]},"title":"Overshoot (Pₜ₀/Pₓ)"},"y2":{"field":"yhi"},"x":{"field":"x","type":"quantitative","scale":{"domain":[-0.054,1]},"title":"Relative Force (P/P₀)"}}},
     {"data":{"name":"pts"},"transform":[{"filter":"datum.p=='I' && datum.g=='Before TEVp'"}],"mark":{"type":"point","shape":"triangle-up","size":90,"filled":true,"color":"black","opacity":1},
      "encoding":{"x":{"field":"x","type":"quantitative","scale":{"domain":[-0.054,1]},"title":"Relative Force (P/P₀)"},"y":{"field":"y","type":"quantitative","scale":{"domain":[-0.05,0.25]},"title":"Overshoot (Pₜ₀/Pₓ)"}}},
     {"data":{"name":"pts"},"transform":[{"filter":"datum.p=='I' && datum.g!='Before TEVp'"}],"mark":{"type":"point","size":90,"strokeWidth":1.5,"opacity":1},
      "encoding":{"x":{"field":"x","type":"quantitative","scale":{"domain":[-0.054,1]},"title":"Relative Force (P/P₀)","axis":{"values":[0,0.5,1],"tickCount":20,"format":".1f","titlePadding":19,"labelOverlap":false}},
       "y":{"field":"y","type":"quantitative","scale":{"domain":[-0.05,0.25]},"title":"Overshoot (Pₜ₀/Pₓ)","axis":{"values":[0,0.05,0.1,0.15,0.2,0.25],"tickCount":20,"format":".2f","offset":-12,"titlePadding":25,"labelOverlap":false}},
       "shape":{"field":"g","type":"nominal","scale":{"domain":["Before TEVp","After TEVp","rC0C7sc","p-rC0C7sc"],"range":["triangle-up","circle","M0,-1L0,1M-0.87,-0.5L0.87,0.5M-0.87,0.5L0.87,-0.5","diamond"]}},
       "fill":{"field":"g","type":"nominal","scale":{"domain":["Before TEVp","After TEVp","rC0C7sc","p-rC0C7sc"],"range":["#555555","white","black","white"]}},
       "stroke":{"field":"g","type":"nominal","scale":{"domain":["Before TEVp","After TEVp","rC0C7sc","p-rC0C7sc"],"range":["#555555","black","black","black"]}}}},
     {"data":{"name":"notes"},"transform":[{"filter":"datum.p=='I' && indexof(datum.t,'*')>=0"}],"mark":{"type":"text","fontSize":36,"align":"center","baseline":"middle","dy":5},
      "encoding":{"x":{"field":"x","type":"quantitative","scale":{"domain":[-0.054,1]},"title":"Relative Force (P/P₀)"},"y":{"field":"y","type":"quantitative","scale":{"domain":[-0.05,0.25]},"title":"Overshoot (Pₜ₀/Pₓ)"},"text":{"field":"t"}}},
     {"data":{"name":"notes"},"transform":[{"filter":"datum.p=='I' && indexof(datum.t,'#')>=0"}],"mark":{"type":"text","fontSize":22,"align":"center","baseline":"middle"},
      "encoding":{"x":{"field":"x","type":"quantitative","scale":{"domain":[-0.054,1]},"title":"Relative Force (P/P₀)"},"y":{"field":"y","type":"quantitative","scale":{"domain":[-0.05,0.25]},"title":"Overshoot (Pₜ₀/Pₓ)"},"text":{"field":"t"}}}
    ]}
  ]}
 ]}
]
}
